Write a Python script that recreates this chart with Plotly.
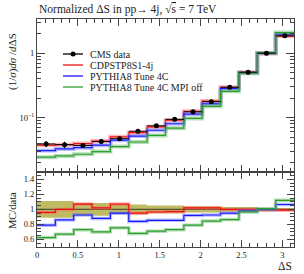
import numpy as np
import plotly.graph_objects as go

# ---- data ----
bin_edges = list(np.linspace(0, np.pi, 15))
data_vals = [0.039, 0.038, 0.037, 0.0425, 0.047, 0.0615, 0.0745, 0.094, 0.123, 0.177, 0.296, 0.507, 1.0, 1.86]
data_relerr = [0.11, 0.11, 0.085, 0.085, 0.065, 0.065, 0.05, 0.05, 0.04, 0.04, 0.03, 0.03, 0.02, 0.02]
ratio_cdps = [0.96, 1.0, 1.07, 1.02, 1.07, 0.95, 0.965, 0.97, 1.02, 1.02, 1.0, 1.0, 0.99, 0.99]
ratio_4c = [0.79, 0.86, 0.925, 0.88, 0.95, 0.84, 0.855, 0.855, 0.92, 0.925, 0.95, 0.98, 1.0, 1.065]
ratio_mpioff = [0.625, 0.67, 0.73, 0.70, 0.755, 0.68, 0.71, 0.73, 0.79, 0.845, 0.865, 0.965, 1.01, 1.12]
legend_labels = ["CMS data", "CDPSTP8S1-4j", "PYTHIA8 Tune 4C", "PYTHIA8 Tune 4C MPI off"]

series = [
    (legend_labels[1], ratio_cdps, "#ee1111", "rgba(255,90,90,0.45)"),
    (legend_labels[2], ratio_4c, "#1a1aff", "rgba(100,110,255,0.45)"),
    (legend_labels[3], ratio_mpioff, "#2e9e2e", "rgba(90,180,90,0.45)"),
]

edges = np.array(bin_edges)
centers = 0.5 * (edges[:-1] + edges[1:])
halfw = 0.5 * (edges[1:] - edges[:-1])
dv = np.array(data_vals)

FONT = "Liberation Serif"

def step(vals):
    v = list(vals)
    return list(edges), v + [v[-1]]

fig = go.Figure()

# ratio band (data uncertainty)
lo = 1 - np.array(data_relerr)
hi = 1 + np.array(data_relerr)
xs, yh = step(hi)
_, yl = step(lo)
fig.add_trace(go.Scatter(x=xs, y=yl, mode="lines", line=dict(width=0, shape="hv"),
                         xaxis="x2", yaxis="y2", showlegend=False, hoverinfo="skip"))
fig.add_trace(go.Scatter(x=xs, y=yh, mode="lines", line=dict(width=0, shape="hv"),
                         fill="tonexty", fillcolor="rgba(180,175,70,0.85)",
                         xaxis="x2", yaxis="y2", showlegend=False, hoverinfo="skip"))
fig.add_trace(go.Scatter(x=[edges[0], edges[-1]], y=[1, 1], mode="lines",
                         line=dict(color="#555533", width=1.2),
                         xaxis="x2", yaxis="y2", showlegend=False, hoverinfo="skip"))

for name, ratio, col, halo in series:
    r = np.array(ratio)
    mc = dv * r
    xs, ys = step(mc)
    fig.add_trace(go.Scatter(x=xs, y=ys, mode="lines", line=dict(color=halo, width=4, shape="hv"),
                             showlegend=False, hoverinfo="skip"))
    fig.add_trace(go.Scatter(x=xs, y=ys, mode="lines", line=dict(color=col, width=1.2, shape="hv"),
                             name=name, showlegend=False))
    xs2, ys2 = step(r)
    fig.add_trace(go.Scatter(x=xs2, y=ys2, mode="lines", line=dict(color=halo, width=3.5, shape="hv"),
                             xaxis="x2", yaxis="y2", showlegend=False, hoverinfo="skip"))
    fig.add_trace(go.Scatter(x=xs2, y=ys2, mode="lines", line=dict(color=col, width=1.2, shape="hv"),
                             name=name, xaxis="x2", yaxis="y2", showlegend=False))

# data points
fig.add_trace(go.Scatter(x=centers, y=dv, mode="markers", name=legend_labels[0],
                         marker=dict(color="black", size=5),
                         error_x=dict(type="data", array=halfw, width=0, thickness=1, color="black"),
                         error_y=dict(type="data", array=dv * np.array(data_relerr), width=0, thickness=1, color="black"),
                         showlegend=False))

# ---- manual legend (paper coords) ----
L, T, W, H = 37, 19, 257, 228
def px(x):
    return (x - L) / W
def py(y):
    return (T + H - y) / H

leg_y = [54, 65, 76, 87]
leg_cols = ["black"] + [s[2] for s in series]
shapes = []
annotations = []
for lab, yy, col in zip(legend_labels, leg_y, leg_cols):
    shapes.append(dict(type="line", xref="paper", yref="paper", x0=px(63), x1=px(83),
                       y0=py(yy), y1=py(yy), line=dict(color=col, width=1.3)))
    annotations.append(dict(text=lab, xref="paper", yref="paper", x=px(88), y=py(yy),
                            xanchor="left", yanchor="middle", showarrow=False,
                            font=dict(family=FONT, size=10, color="#222")))
shapes.append(dict(type="circle", xref="paper", yref="paper", xsizemode="pixel", ysizemode="pixel",
                   xanchor=px(73), yanchor=py(leg_y[0]), x0=-2.5, x1=2.5, y0=-2.5, y1=2.5,
                   fillcolor="black", line=dict(color="black", width=0)))

annotations += [
    dict(text="Normalized \u0394S in pp\u2192 4j, \u221a<span style='text-decoration:overline'>s</span> = 7 TeV",
         xref="paper", yref="paper", x=0.0, y=1.0, xanchor="left", yanchor="bottom", yshift=1,
         showarrow=False, font=dict(family=FONT, size=11.5, color="#222")),
    dict(text="(1/<i>\u03c3</i>)<i>d\u03c3</i> /<i>d</i>\u0394S", textangle=-90,
         xref="paper", yref="paper", x=px(12), y=py(62), xanchor="center", yanchor="middle",
         showarrow=False, font=dict(family=FONT, size=11, color="#222")),
    dict(text="MC/data", textangle=-90,
         xref="paper", yref="paper", x=px(12), y=py(211), xanchor="center", yanchor="middle",
         showarrow=False, font=dict(family=FONT, size=10.5, color="#222")),
    dict(text="\u0394S", xref="paper", yref="paper", x=1.0, y=py(266), xanchor="right", yanchor="middle",
         showarrow=False, font=dict(family=FONT, size=11.5, color="#222")),
]

axcommon = dict(showline=True, linecolor="#444", linewidth=1, mirror="ticks",
                ticks="inside", tickcolor="#444", showgrid=False, zeroline=False,
                tickfont=dict(family=FONT, size=8.5, color="#222"))

fig.update_layout(
    width=304, height=274,
    margin=dict(l=L, r=304 - L - W, t=T, b=274 - T - H),
    paper_bgcolor="white", plot_bgcolor="white",
    showlegend=False,
    xaxis=dict(domain=[0, 1], range=[0, np.pi], anchor="y", showticklabels=False,
               tickvals=[0, 0.5, 1, 1.5, 2, 2.5, 3], ticklen=7,
               minor=dict(dtick=0.1, ticklen=4, ticks="inside", tickcolor="#444"), **axcommon),
    yaxis=dict(domain=[0.33, 1], type="log", range=[-1.84, 0.53], anchor="x",
               tickvals=[0.1, 1], ticktext=["10<sup>\u22121</sup>", "1"], ticklen=8,
               minor=dict(tickvals=[0.02, 0.03, 0.04, 0.05, 0.06, 0.07, 0.08, 0.09,
                                    0.2, 0.3, 0.4, 0.5, 0.6, 0.7, 0.8, 0.9, 2, 3],
                          ticklen=4, ticks="inside", tickcolor="#444"), **axcommon),
    xaxis2=dict(domain=[0, 1], range=[0, np.pi], anchor="y2",
                tickvals=[0, 0.5, 1, 1.5, 2, 2.5, 3], ticktext=["0", "0.5", "1", "1.5", "2", "2.5", "3"],
                ticklen=7,
                minor=dict(dtick=0.1, ticklen=4, ticks="inside", tickcolor="#444"), **axcommon),
    yaxis2=dict(domain=[0, 0.33], range=[0.5, 1.5], anchor="x2",
                tickvals=[0.6, 0.8, 1.0, 1.2, 1.4], ticktext=["0.6", "0.8", "1", "1.2", "1.4"],
                ticklen=7,
                minor=dict(dtick=0.05, ticklen=4, ticks="inside", tickcolor="#444"), **axcommon),
    shapes=shapes,
    annotations=annotations,
)

fig.write_html("out.html", config={"displayModeBar": False},
               post_script="document.body.style.margin='0px';document.body.style.padding='0px';")
